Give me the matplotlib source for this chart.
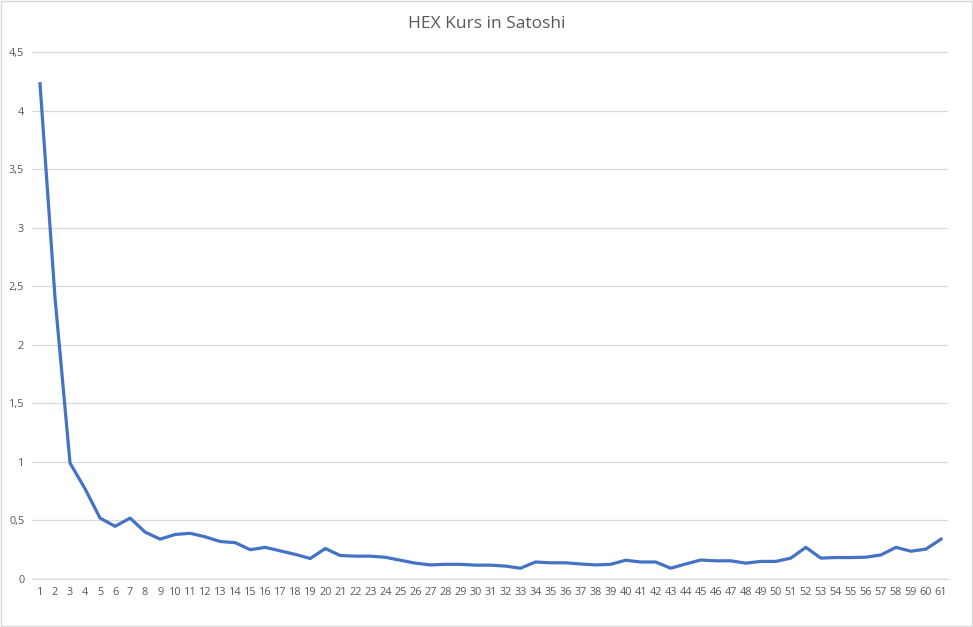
import matplotlib
matplotlib.use("Agg")
import matplotlib.pyplot as plt
from matplotlib.ticker import FuncFormatter

# HEX price in satoshi, day by day
days = list(range(1, 62))
kurs = [4.23, 2.40, 0.99, 0.77, 0.52, 0.45, 0.52, 0.40, 0.34, 0.38,
        0.39, 0.36, 0.32, 0.31, 0.25, 0.27, 0.24, 0.21, 0.175, 0.26,
        0.20, 0.195, 0.195, 0.185, 0.16, 0.135, 0.12, 0.125, 0.125, 0.118,
        0.118, 0.11, 0.092, 0.145, 0.138, 0.138, 0.128, 0.12, 0.125, 0.16,
        0.145, 0.145, 0.092, 0.128, 0.162, 0.155, 0.155, 0.135, 0.15, 0.15,
        0.178, 0.27, 0.178, 0.183, 0.183, 0.186, 0.205, 0.27, 0.237, 0.255,
        0.34]

plt.rcParams['font.family'] = ['Open Sans', 'DejaVu Sans']

fig = plt.figure(figsize=(9.73, 6.27), dpi=100)
ax = fig.add_axes([0.0334, 0.0766, 0.9414, 0.8404])

ax.plot(days, kurs, color="#4472C4", linewidth=2.3, solid_joinstyle="round")

ax.set_xlim(0.5, 61.5)
ax.set_ylim(0, 4.5)
ax.set_xticks(days)
ax.set_yticks([0, 0.5, 1, 1.5, 2, 2.5, 3, 3.5, 4, 4.5])
ax.yaxis.set_major_formatter(FuncFormatter(lambda v, p: ("%g" % v).replace(".", ",")))
ax.tick_params(length=0, labelsize=7.8, colors="#595959", pad=6)
ax.grid(axis="y", color="#D9D9D9", linewidth=0.9)
ax.set_axisbelow(True)
for s in ["top", "right", "left"]:
    ax.spines[s].set_visible(False)
ax.spines["bottom"].set_color("#D9D9D9")
ax.spines["bottom"].set_linewidth(0.9)

fig.suptitle("HEX Kurs in Satoshi", y=0.975, fontsize=12.5, color="#595959")

# light border around the chart area
fig.patches.append(plt.Rectangle((0.001, 0.001), 0.998, 0.998, transform=fig.transFigure,
                                 fill=False, edgecolor="#D9D9D9", linewidth=1))

fig.savefig("out.png", dpi=100)
